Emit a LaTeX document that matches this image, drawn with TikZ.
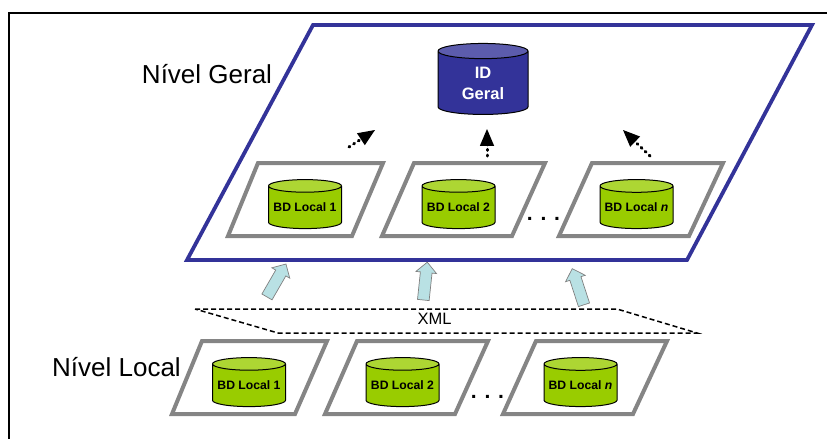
\documentclass[tikz,border=0pt]{standalone}
\usepackage{fontspec}
\setmainfont{Liberation Sans}
\usetikzlibrary{arrows,calc}
\usetikzlibrary{positioning,shapes}
\definecolor{geralblue}{HTML}{333399}
\definecolor{geraltop}{HTML}{5C5CAD}
\definecolor{localgreen}{HTML}{99CC00}
\definecolor{localtop}{HTML}{ADD633}
\definecolor{sheetgray}{HTML}{858585}
\definecolor{xmlblue}{HTML}{B9E1E4}
\tikzstyle{frame}=[-, line width=1.5pt, black]
\tikzstyle{plane}=[line width=3.8pt, geralblue, miter limit=10]
\tikzstyle{sheet}=[line width=4pt, sheetgray, miter limit=10]
\tikzstyle{xmlplane}=[line width=1.5pt, black, dash pattern=on 5pt off 3pt]
\tikzstyle{base}=[cylinder, shape border rotate=90, draw=black, line width=1pt,
		cylinder uses custom fill, inner sep=0pt, align=center, font=\bfseries]
\tikzstyle{lclbase}=[base, cylinder body fill=localgreen, cylinder end fill=localtop,
		minimum width=73pt, minimum height=49pt, aspect=0.2, font=\bfseries\fontsize{12.2}{14}\selectfont]
\tikzstyle{idbase}=[base, cylinder body fill=geralblue, cylinder end fill=geraltop,
		minimum width=90pt, minimum height=71pt, aspect=0.36, text=white,
		font=\bfseries\fontsize{16.5}{21}\selectfont]
\tikzstyle{dotflow}=[-triangle 45, line width=3pt, dash pattern=on 1pt off 4.6pt, line cap=round]
\tikzstyle{xmlflow}=[single arrow, draw=gray, line width=.7pt, fill=xmlblue, inner sep=5.5pt,
		minimum height=38pt, single arrow head extend=4.5pt]
\tikzstyle{level}=[inner sep=0pt, font=\fontsize{26}{28}\selectfont]
\tikzstyle{more}=[inner sep=0pt, anchor=base, font=\bfseries\fontsize{21}{24}\selectfont]

\begin{document}
\begin{tikzpicture}[x=1pt,y=-1pt]

  \useasboundingbox (0,0) rectangle (827,439);

  \draw [frame] (827,13) -- (9,13) -- (9,439);

  % general level
  \draw [plane] (313,25) -- (812,25) -- (687,260) -- (187,260) -- cycle;
  \draw [sheet] (258,163) -- (383,163) -- (352,236) -- (228,236) -- cycle;
  \draw [sheet] (414,163) -- (545,163) -- (512,236) -- (382,236) -- cycle;
  \draw [sheet] (592,163) -- (723,163) -- (689,236) -- (559,236) -- cycle;

  \node (Geral) [idbase] at (483,83) {ID\\Geral};
  \node (Upr1) [lclbase] at (305,207.5) {BD Local 1};
  \node (Upr2) [lclbase] at (458.5,207.5) {BD Local 2};
  \node (Uprn) [lclbase] at (636.5,207.5) {BD Local \textit{n}};

  \node (UprMore) [more] at (543.5,220) {. . .};

  \node (LvlGeral) [level] at (207,74) {Nível Geral};
  \node (LvlLocal) [level] at (116.5,367) {Nível Local};

  \coordinate (Out1) at (349,147);
  \coordinate (In1) at (375,130);
  \coordinate (Out2) at (487,156);
  \coordinate (In2) at (487,129);
  \coordinate (Out3) at (650,156);
  \coordinate (In3) at (623,130);
  \draw [dotflow] (Out1) -- (In1);
  \draw [dotflow] (Out2) -- (In2);
  \draw [dotflow] (Out3) -- (In3);

  % exchange between the levels
  \node (Flow1) [xmlflow, rotate=60] at (275,283) {};
  \node (Flow2) [xmlflow, rotate=84] at (425,284) {};
  \node (Flow3) [xmlflow, rotate=108] at (579,289.5) {};

  \draw [xmlplane] (195,309) -- (617,309) -- (697,333) -- (278,333) -- cycle;
  \node (Xml) [inner sep=0pt, font=\fontsize{16.5}{18}\selectfont] at (434.5,319) {XML};

  % local level
  \draw [sheet] (202,341) -- (327,341) -- (295,414) -- (172,414) -- cycle;
  \draw [sheet] (357,341) -- (488,341) -- (455,414) -- (325,414) -- cycle;
  \draw [sheet] (536,341) -- (667,341) -- (633,414) -- (503,414) -- cycle;

  \node (Lcl1) [lclbase] at (249,385.5) {BD Local 1};
  \node (Lcl2) [lclbase] at (402.5,385.5) {BD Local 2};
  \node (Lcln) [lclbase] at (580.5,385.5) {BD Local \textit{n}};

  \node (LclMore) [more] at (487.5,398) {. . .};

\end{tikzpicture}
\end{document}
